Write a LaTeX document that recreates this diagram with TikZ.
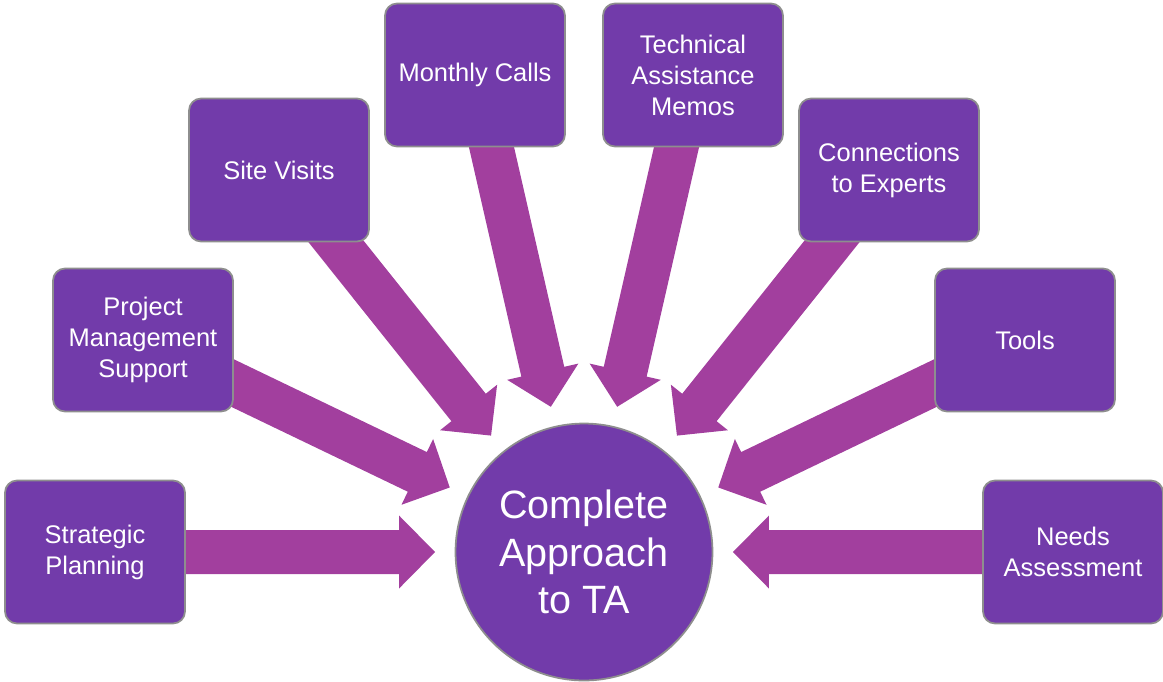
\documentclass[tikz,border=0pt]{standalone}
\usepackage{fontspec}
\setmainfont{Liberation Sans}
\usetikzlibrary{calc}
\pgfdeclarelayer{background}
\pgfsetlayers{background,main}
\definecolor{boxfill}{HTML}{723BAA}
\definecolor{arrowfill}{HTML}{A23F9E}
\definecolor{edgegray}{HTML}{8E8E8E}
\tikzset{
  tabox/.style={draw=edgegray, line width=1pt, fill=boxfill, rounded corners=0.24cm,
    minimum width=3.6cm, minimum height=2.86cm, inner sep=0pt, text=white, align=center,
    font=\fontsize{14.5}{17.6}\selectfont},
  hub/.style={circle, draw=edgegray, line width=1pt, fill=boxfill, minimum size=5.14cm,
    inner sep=0pt, text=white, align=center, font=\fontsize{22.5}{27}\selectfont},
  blockarrow/.style={fill=arrowfill}
}
\newcommand\flowarrow[2]{%
  \coordinate (T#1) at ($(#2.center)!2.98cm!(#1.center)$);
  \coordinate (B#1) at ($(T#1)!0.72cm!(#1.center)$);
  \fill[blockarrow]
    ($(#1.center)!0.44cm!90:(T#1)$) --
    ($(B#1)!0.44cm!90:(T#1)$) --
    ($(B#1)!0.73cm!90:(T#1)$) --
    (T#1) --
    ($(B#1)!0.73cm!-90:(T#1)$) --
    ($(B#1)!0.44cm!-90:(T#1)$) --
    ($(#1.center)!0.44cm!-90:(T#1)$) -- cycle;
}
\begin{document}
\begin{tikzpicture}[x=0.02cm, y=-0.02cm]
\useasboundingbox (0,0) rectangle (1163,681);
\node[hub] (hub) at (584,552) {Complete\\Approach\\to TA};
\node[tabox] (sp) at (95,552) {Strategic\\Planning};
\node[tabox] (pm) at (143,340) {Project\\Management\\Support};
\node[tabox] (sv) at (279,170) {Site Visits};
\node[tabox] (mc) at (475,75) {Monthly Calls};
\node[tabox] (tm) at (693,75) {Technical\\Assistance\\Memos};
\node[tabox] (ce) at (889,170) {Connections\\to Experts};
\node[tabox] (tl) at (1025,340) {Tools};
\node[tabox] (na) at (1073,552) {Needs\\Assessment};
\begin{pgfonlayer}{background}
\flowarrow{sp}{hub}
\flowarrow{pm}{hub}
\flowarrow{sv}{hub}
\flowarrow{mc}{hub}
\flowarrow{tm}{hub}
\flowarrow{ce}{hub}
\flowarrow{tl}{hub}
\flowarrow{na}{hub}
\end{pgfonlayer}
\end{tikzpicture}
\end{document}
